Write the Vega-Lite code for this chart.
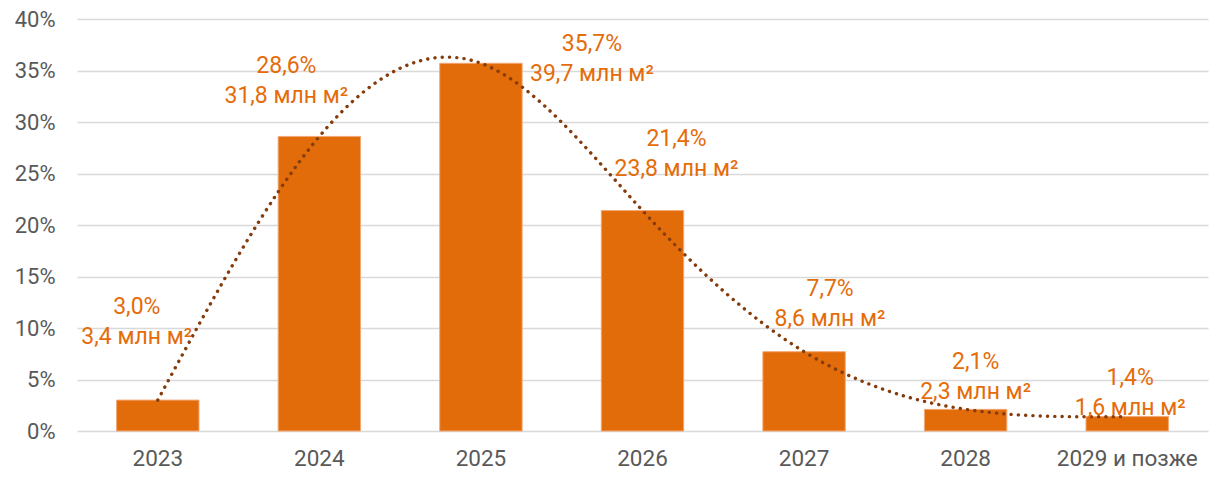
{
  "$schema": "https://vega.github.io/schema/vega-lite/v6.json",
  "width": 1131,
  "height": 412,
  "autosize": {"type": "none"},
  "padding": {"left": 77, "top": 19, "right": 9, "bottom": 46},
  "config": {
    "font": "Roboto",
    "view": {"stroke": null},
    "axis": {"labelFont": "Roboto", "labelColor": "#595959", "labelFontSize": 22}
  },
  "data": {
    "values": [
      {"year": "2023", "pct": 3.0, "label": "3,0%\n3,4 млн м²"},
      {"year": "2024", "pct": 28.6, "label": "28,6%\n31,8 млн м²"},
      {"year": "2025", "pct": 35.7, "label": "35,7%\n39,7 млн м²"},
      {"year": "2026", "pct": 21.4, "label": "21,4%\n23,8 млн м²"},
      {"year": "2027", "pct": 7.7, "label": "7,7%\n8,6 млн м²"},
      {"year": "2028", "pct": 2.1, "label": "2,1%\n2,3 млн м²"},
      {"year": "2029 и позже", "pct": 1.4, "label": "1,4%\n1,6 млн м²"}
    ]
  },
  "encoding": {
    "x": {
      "field": "year", "type": "nominal", "sort": null,
      "scale": {"paddingInner": 0.49, "paddingOuter": 0.245},
      "axis": {"title": null, "labelAngle": 0, "ticks": false, "domain": false, "labelPadding": 16, "labelFontSize": 22.5}
    },
    "y": {
      "field": "pct", "type": "quantitative",
      "scale": {"domain": [0, 40], "nice": false},
      "axis": {"title": null, "values": [0, 5, 10, 15, 20, 25, 30, 35, 40], "labelExpr": "datum.value + '%'", "ticks": false, "domain": false, "labelPadding": 22, "gridColor": "#d9d9d9", "gridWidth": 1.5}
    }
  },
  "layer": [
    {"mark": {"type": "bar", "color": "#E36C0A", "stroke": "#F2A873", "strokeWidth": 1}},
    {"mark": {"type": "line", "interpolate": "natural", "color": "#843C0C", "strokeWidth": 3.4, "strokeDash": [0.1, 7.2], "strokeCap": "round"}},
    {"transform": [{"filter": "datum.year == '2023'"}], "mark": {"type": "text", "lineBreak": "\n", "lineHeight": 30, "fontSize": 23, "color": "#E46C0A", "align": "center", "baseline": "middle", "dx": -21, "dy": -93}, "encoding": {"text": {"field": "label"}}},
    {"transform": [{"filter": "datum.year == '2024'"}], "mark": {"type": "text", "lineBreak": "\n", "lineHeight": 30, "fontSize": 23, "color": "#E46C0A", "align": "center", "baseline": "middle", "dx": -33, "dy": -70}, "encoding": {"text": {"field": "label"}}},
    {"transform": [{"filter": "datum.year == '2025'"}], "mark": {"type": "text", "lineBreak": "\n", "lineHeight": 30, "fontSize": 23, "color": "#E46C0A", "align": "center", "baseline": "middle", "dx": 111, "dy": -19}, "encoding": {"text": {"field": "label"}}},
    {"transform": [{"filter": "datum.year == '2026'"}], "mark": {"type": "text", "lineBreak": "\n", "lineHeight": 30, "fontSize": 23, "color": "#E46C0A", "align": "center", "baseline": "middle", "dx": 34, "dy": -72}, "encoding": {"text": {"field": "label"}}},
    {"transform": [{"filter": "datum.year == '2027'"}], "mark": {"type": "text", "lineBreak": "\n", "lineHeight": 30, "fontSize": 23, "color": "#E46C0A", "align": "center", "baseline": "middle", "dx": 26, "dy": -63}, "encoding": {"text": {"field": "label"}}},
    {"transform": [{"filter": "datum.year == '2028'"}], "mark": {"type": "text", "lineBreak": "\n", "lineHeight": 30, "fontSize": 23, "color": "#E46C0A", "align": "center", "baseline": "middle", "dx": 10, "dy": -47}, "encoding": {"text": {"field": "label"}}},
    {"transform": [{"filter": "datum.year == '2029 и позже'"}], "mark": {"type": "text", "lineBreak": "\n", "lineHeight": 30, "fontSize": 23, "color": "#E46C0A", "align": "center", "baseline": "middle", "dx": 3, "dy": -39}, "encoding": {"text": {"field": "label"}}}
  ]
}
